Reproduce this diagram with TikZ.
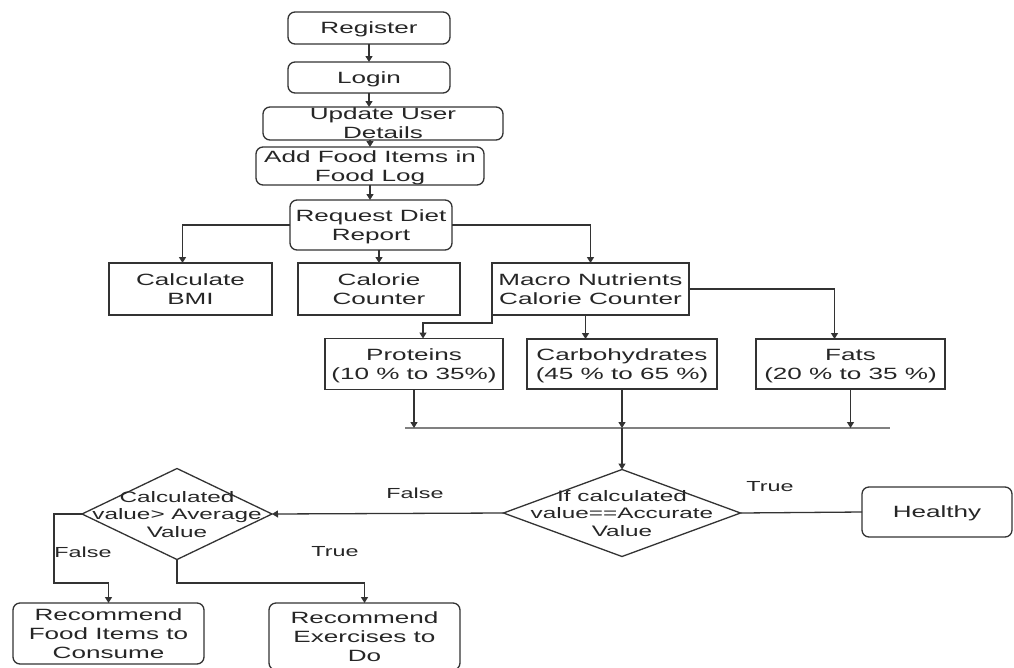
\documentclass[tikz,border=0pt]{standalone}
\usepackage{fontspec}
\setmainfont{Liberation Sans}[FakeStretch=1.6]
\usetikzlibrary{shapes.geometric,arrows.meta}
\definecolor{lc}{HTML}{333333}
\definecolor{tc}{HTML}{262626}
\definecolor{jc}{HTML}{808080}
\newcommand\ct[1]{\makebox[0pt]{\raisebox{\dimexpr-0.5\height-2pt\relax}[0pt][0pt]{\raisebox{\depth}{\begin{tabular}{@{}c@{}}#1\end{tabular}}}}}
\tikzset{
  box/.style={draw=lc, line width=1.3pt, text=tc, inner sep=0pt, outer sep=0pt,
    font=\fontsize{16.3}{19}\selectfont},
  rbox/.style={box, rounded corners=7pt},
  dia/.style={diamond, draw=lc, line width=1.3pt, text=tc, inner sep=0pt, outer sep=0pt,
    font=\fontsize{15.2}{17.5}\selectfont},
  lbl/.style={text=tc, inner sep=0pt, font=\fontsize{14.6}{17}\selectfont},
  arr/.style={draw=lc, line width=1.3pt, -{Triangle[length=6pt,width=7pt]}},
  ln/.style={draw=lc, line width=1.3pt},
}
\begin{document}
\begin{tikzpicture}[x=1pt,y=-1pt]
\fill[white] (0,0) rectangle (1014,667);
\useasboundingbox (0,0) rectangle (1014,667);
% top chain
\node[rbox, minimum width=162, minimum height=32] (reg) at (369,28) {\ct{Register}};
\node[rbox, minimum width=162, minimum height=31] (login) at (369,77.5) {\ct{Login}};
\node[rbox, minimum width=240, minimum height=33] (upd) at (383,123.5) {\ct{Update User\\Details}};
\node[rbox, minimum width=228, minimum height=38] (add) at (370,166) {\ct{Add Food Items in\\Food Log}};
\node[rbox, minimum width=162, minimum height=50] (req) at (371,225) {\ct{Request Diet\\Report}};
% second row
\node[box, minimum width=163, minimum height=52] (bmi) at (190.5,289) {\ct{Calculate\\BMI}};
\node[box, minimum width=162, minimum height=52] (cal) at (379,289) {\ct{Calorie\\Counter}};
\node[box, minimum width=197, minimum height=52] (mac) at (590.5,289) {\ct{Macro Nutrients\\Calorie Counter}};
% third row
\node[box, minimum width=178, minimum height=51] (prot) at (414,364) {\ct{Proteins\\(10 \% to 35\%)}};
\node[box, minimum width=190, minimum height=50] (carb) at (622,364) {\ct{Carbohydrates\\(45 \% to 65 \%)}};
\node[box, minimum width=189, minimum height=50] (fats) at (850.5,364) {\ct{Fats\\(20 \% to 35 \%)}};
% junction line
\coordinate (jl) at (405,428);
\coordinate (jr) at (890,428);
% decisions
\node[dia, minimum width=237, minimum height=87] (d1) at (622,513) {\ct{If calculated\\value==Accurate\\Value}};
\node[rbox, minimum width=150, minimum height=50] (hea) at (937,512) {\ct{Healthy}};
\node[dia, minimum width=190, minimum height=91] (d2) at (177,514) {\ct{Calculated\\value> Average\\Value}};
\node[rbox, minimum width=191, minimum height=61] (rf) at (108.5,633.5) {\ct{Recommend\\Food Items to\\Consume}};
\node[rbox, minimum width=191, minimum height=67] (re) at (364.5,636.5) {\ct{Recommend\\Exercises to\\Do}};
% labels
\node[lbl] (lt1) at (770,487) {True};
\node[lbl] (lf1) at (415,493) {False};
\node[lbl] (lf2) at (83,552) {False};
\node[lbl] (lt2) at (335,552) {True};
% connectors
\draw[arr] (reg.south) -- (login.north);
\draw[arr] (login.south) -- (login.south |- upd.north);
\draw[arr] (add.north |- upd.south) -- (add.north);
\draw[arr] (add.south) -- (add.south |- req.north);
\draw[arr] (req.south -| cal.north) -- (cal.north);
\draw[arr] (req.west) -| ([xshift=-8pt]bmi.north);
\draw[arr] (req.east) -| (mac.north);
\draw[arr] ([xshift=-5pt]mac.south) -- ([xshift=-5pt]mac.south |- carb.north);
\draw[arr] (mac.east) -| ([xshift=-16pt]fats.north);
\draw[arr] (mac.south west) -- ++(0,8) -| ([xshift=9pt]prot.north);
\draw[ln, draw=jc] (jl) -- (jr);
\draw[arr] (prot.south) -- (prot.south |- jl);
\draw[arr] (carb.south) -- (carb.south |- jl);
\draw[arr] (fats.south) -- (fats.south |- jl);
\draw[arr] (carb.south |- jl) -- (d1.north);
\draw[ln] (d1.east) -- (hea.west);
\draw[arr] (d1.west) -- (d2.east);
\draw[arr] (d2.west) -- ++(-28,0) |- ([yshift=20pt]rf.north) -- (rf.north);
\draw[arr] (d2.south) |- ([yshift=20pt]re.north) -- (re.north);
\end{tikzpicture}
\end{document}
